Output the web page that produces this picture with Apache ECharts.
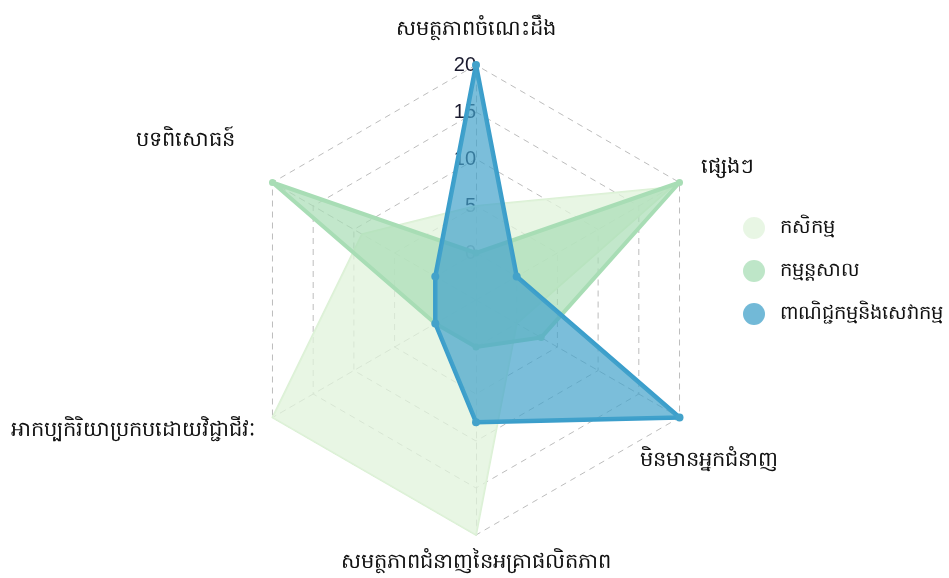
<!DOCTYPE html>
<html>
<head>
<meta charset="utf-8">
<script src="https://cdn.jsdelivr.net/npm/echarts@6/dist/echarts.min.js"></script>
<style>
  html, body { margin: 0; padding: 0; background: #fff; }
  #chart { width: 949px; height: 578px; }
</style>
</head>
<body>
<div id="chart"></div>
<script>
// indicators, counterclockwise from the top (ECharts radar order)
const indicatorNames = [
  'សមត្ថភាពចំណេះដឹង',
  'បទពិសោធន៍',
  'អាកប្បកិរិយាប្រកបដោយវិជ្ជាជីវៈ',
  'សមត្ថភាពជំនាញនៃអគ្រាផលិតភាព',
  'មិនមានអ្នកជំនាញ',
  'ផ្សេងៗ'
]
const seriesNames = ['កសិកម្ម', 'កម្មន្តសាល', 'ពាណិជ្ជកម្មនិងសេវាកម្ម']

const agriculture = [5, 9, 20, 20, 0, 19]
const industry = [0, 20, 0, 0, 3, 20]
const commerce = [20, 0, 0, 8, 20, 0]

const axisMin = -5
const axisMax = 20

const colors = ['#e0f3db', '#a8ddb5', '#43a2ca']
const lineColors = ['#dcf1d6', '#a8ddb5', '#3b9ecb']
const lineWidths = [2, 4, 4.5]
const symbolSizes = [0, 7, 8]

// nudges for the indicator names (rich text padding: top, right, bottom, left)
const namePads = [
  [0, 0, 0, 0],
  [0, 16, 60, 0],
  [0, -4, 0, 0],
  [-8, 0, 0, 0],
  [60, 0, 0, -61],
  [0, 0, 6, 0]
]

const chart = echarts.init(document.getElementById('chart'))

const indicator = indicatorNames.map((name, i) => {
  const ind = { name, min: axisMin, max: axisMax }
  if (i === 0) ind.axisLabel = { show: true }
  return ind
})

const nameRich = {}
namePads.forEach((p, i) => {
  nameRich['n' + i] = { fontSize: 21, color: '#111', padding: p }
})

// one series per sector so later ones cover earlier dots
const series = [agriculture, industry, commerce].map((vals, i) => ({
  type: 'radar',
  name: seriesNames[i],
  z: 2 + i,
  symbol: 'circle',
  symbolSize: symbolSizes[i],
  itemStyle: { color: colors[i], borderWidth: 0 },
  lineStyle: { color: lineColors[i], width: lineWidths[i] },
  areaStyle: { color: colors[i], opacity: i === 0 ? 0.75 : 0.7 },
  data: [{ name: seriesNames[i], value: vals }]
}))

chart.setOption({
  backgroundColor: '#fff',
  animation: false,
  legend: {
    orient: 'vertical',
    left: 738,
    top: 212,
    icon: 'circle',
    itemWidth: 22,
    itemHeight: 22,
    itemGap: 21,
    data: seriesNames,
    itemStyle: { opacity: 0.75 },
    textStyle: { fontSize: 19.5, color: '#111', padding: [0, 0, 0, 10] }
  },
  radar: {
    center: [476, 300],
    radius: 235,
    startAngle: 90,
    splitNumber: 5,
    shape: 'polygon',
    nameGap: 25,
    axisName: {
      color: '#111',
      fontSize: 21,
      formatter: (name) => '{n' + indicatorNames.indexOf(name) + '|' + name + '}',
      rich: nameRich
    },
    axisLine: { lineStyle: { color: '#bdbdbd', type: [6, 5], width: 1 } },
    splitLine: { lineStyle: { color: '#bdbdbd', type: [6, 5], width: 1 } },
    splitArea: { show: false },
    axisLabel: {
      show: false,
      color: '#1a1a2e',
      fontSize: 20,
      align: 'right',
      margin: 0,
      formatter: (v) => (v < 0 ? '' : String(v))
    },
    indicator
  },
  series
})
</script>
</body>
</html>
